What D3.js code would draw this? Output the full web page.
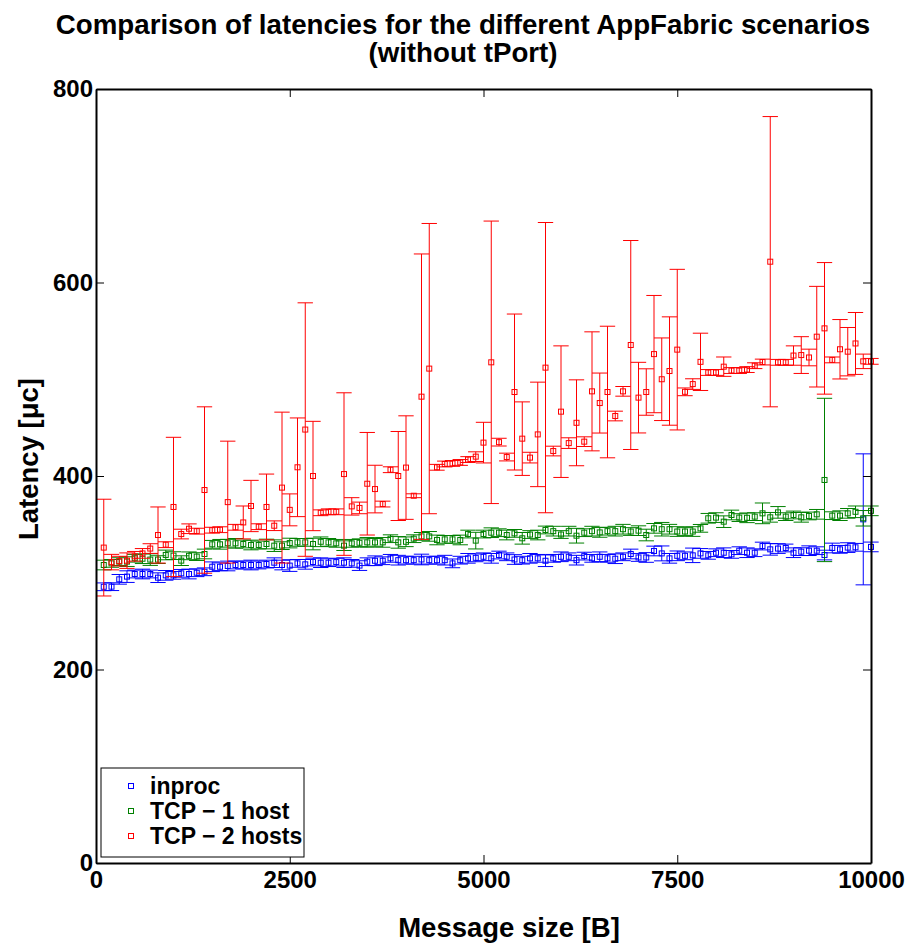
<!DOCTYPE html>
<html><head><meta charset="utf-8">
<script src="https://cdn.jsdelivr.net/npm/d3@7"></script>
<style>
body{margin:0;background:#fff}
svg{display:block}
text{font-family:"Liberation Sans",Arial,Helvetica,sans-serif;font-weight:bold;fill:#000}
</style>
</head><body>
<svg id="chart" width="905" height="943"></svg>
<script>
const msgSize = [100,200,300,400,500,600,700,800,900,1000,1100,1200,1300,1400,1500,1600,1700,1800,1900,2000,
2100,2200,2300,2400,2500,2600,2700,2800,2900,3000,3100,3200,3300,3400,3500,3600,3700,3800,3900,4000,
4100,4200,4300,4400,4500,4600,4700,4800,4900,5000,5100,5200,5300,5400,5500,5600,5700,5800,5900,6000,
6100,6200,6300,6400,6500,6600,6700,6800,6900,7000,7100,7200,7300,7400,7500,7600,7700,7800,7900,8000,
8100,8200,8300,8400,8500,8600,8700,8800,8900,9000,9100,9200,9300,9400,9500,9600,9700,9800,9900,10000];

const inprocMean = [285.5,285.6,293.2,296,298.7,298.7,298.7,294.9,297.3,297.3,
299.4,298.7,300,301,306.2,306.2,307,308,308,308,
308,309,310.4,308,307.4,309.7,308.7,311.1,310.4,310.4,
311,310.4,309.7,307.4,311.4,312.4,312.4,314.9,313,313,
313,313.7,313,313,313,309.7,313,314.9,315.4,316.5,
314.9,318.3,316.5,313.7,313,314.9,314.9,312.4,314.9,316.5,
316.5,313,317.2,314.9,316.5,314.9,314.5,316.5,319.4,315.8,
315.8,322.5,320,314.9,317.5,317.5,318,320,318,320.7,
320.7,319,322.8,320.7,320.7,327.6,324.2,325,325.6,320.7,
321.8,322.8,322.8,318.3,325.6,324.2,326,326.3,355.2,326.7];
const inprocErr = [4,4,5,6,4,5,4,5,5,4,
4,5,4,4,5,4,5,4,4,5,
4,4,5,5,6,4,5,4,5,4,
4,5,4,5,4,5,4,4,5,4,
4,5.5,4,4,5,4.5,4,5,4,4,
5,4,4,5,4,5,4,6,4,5,
4,5,4,4,5,4,5,4,5,4,
5,5,7.7,5,5,4,7.5,5,4,4,
5,4,4,5,4,4,6,5,4,5,
4,5,4,5,5,4,5,4,67.7,5];

const tcp1Mean = [308,309.7,311.5,311.5,315,314.5,313.6,313.6,318.4,317.7,
312.5,317.5,316.7,319.4,329.4,329.4,330.5,330.4,329.7,328.7,
328.7,329.7,328,328,330.7,331.4,331.4,329.7,332,331.4,
330.4,328,330.4,331,331.4,331.4,331.4,335.2,331.4,332,
335.2,337.6,337.6,333.9,334.5,334.5,333.9,340,333.2,340,
341.4,341.4,339,340.7,335.6,339.5,339,344.2,343,339.5,
343,338.3,341.4,343,341.7,343,343,345,342.6,343.5,
339,345.9,345,345,342.6,342.6,342.6,345.9,356.3,357,
352.8,359.7,357,356.8,358,361.4,357.3,362.4,358,359.7,
357.3,358.7,360.4,395.9,359,359,361.4,363,356.3,364];
const tcp1Err = [5,4,4,5,4,5,6,4,5,4,
5,4,4,5,4,5,4,5,4,5,
4,5,6,4,5,4,4,6,5,4,
4,5,4,4,5,4,5,4,6,5,
4,4,5,5,4,4,5,4,8.6,4,
5,4,5,4,6,4,5,4,5,4,
5,7.6,4,5,5,4,5,5,4,5,
6,5,7,5,5,4,5,4,5,5,
6,5,4,5,4,10.7,5,6,4,4,
5,4,5,84.4,4,5,5,6,8,5];

const tcp2Mean = [326,311,312,312.5,317,320,325,339,329,368,
340,345.5,343,385.5,344,344.5,373,347,352,369,
347.6,368,348.6,388,365,409,448,400,362,363,
363,402,368.6,367,392,386.5,371,406.5,400,408.7,
379.6,482,511,409,412.4,413,414,417,420,434.5,
517.5,435,419.6,486.8,438.6,419,443,512,425.8,466.5,
434,455,435.5,487.5,475.4,486.8,462,487.5,535.4,481,
486.8,526,500,508.5,530.6,487,495,518,507,507,
513,509,509,510,514,517.8,621.5,517.5,517.5,524.5,
525,522.5,544,552.6,520,531,528.5,537,518.5,518.5];
const tcp2Err = [50,8,5,8,5,5,5,29,3,72,
5,5,3,86,3,3,63,3,17,26.5,
3,34,5,78,16.5,51,131,56.5,3,3,
3,84,9,6,53,24.6,3,3,46,53.5,
2,147.5,150,3,3,3,3,3,5,21,
146,4,4,80.6,38,5.5,54,150,5,68,
5.5,44.4,5,61.5,31,68,5,5,108,36.5,
24,60.6,42.7,56,83,4,5.5,29.6,3,3,
10,3,3,3,3,3,150,3,3,10,
19,8.6,52,68,3,30.7,25,32,7.5,3];

const seriesNames = ["inproc", "TCP \u2212 1 host", "TCP \u2212 2 hosts"];
const seriesColors = ["#0000ff", "#008000", "#ff0000"];
const xTicks = [0, 2500, 5000, 7500, 10000];
const yTicks = [0, 200, 400, 600, 800];
const titleLines = ["Comparison of latencies for the different AppFabric scenarios", "(without tPort)"];
const xLabel = "Message size [B]";
const yLabel = "Latency [\u03bcc]";

const W = 905, H = 943;
const M = {left: 96, right: 34, top: 89, bottom: 80};
const pw = W - M.left - M.right, ph = H - M.top - M.bottom;

const svg = d3.select("#chart");
const g = svg.append("g").attr("transform", `translate(${M.left},${M.top})`);

const x = d3.scaleLinear().domain([0, 10000]).range([0, pw]);
const y = d3.scaleLinear().domain([0, 800]).range([ph, 0]);

const series = [
  {name: seriesNames[0], color: seriesColors[0], mean: inprocMean, err: inprocErr},
  {name: seriesNames[1], color: seriesColors[1], mean: tcp1Mean, err: tcp1Err},
  {name: seriesNames[2], color: seriesColors[2], mean: tcp2Mean, err: tcp2Err}
];

const capHalf = (d3.max(msgSize) - d3.min(msgSize)) / 100;
const mk = 5;

const plot = g.append("g").attr("clip-path", null);
series.forEach(s => {
  const sg = plot.append("g").attr("stroke", s.color).attr("fill", "none").attr("stroke-width", 1);
  const pts = msgSize.map((v, i) => ({x: v, m: s.mean[i], e: s.err[i]}));
  const bars = sg.selectAll("g.bar").data(pts).join("g").attr("class", "bar");
  bars.append("line")
    .attr("x1", d => x(d.x)).attr("x2", d => x(d.x))
    .attr("y1", d => y(d.m - d.e)).attr("y2", d => y(d.m + d.e));
  bars.append("line")
    .attr("x1", d => x(d.x - capHalf)).attr("x2", d => x(d.x + capHalf))
    .attr("y1", d => y(d.m + d.e)).attr("y2", d => y(d.m + d.e));
  bars.append("line")
    .attr("x1", d => x(d.x - capHalf)).attr("x2", d => x(d.x + capHalf))
    .attr("y1", d => y(d.m - d.e)).attr("y2", d => y(d.m - d.e));
  bars.append("rect")
    .attr("x", d => x(d.x) - mk / 2).attr("y", d => y(d.m) - mk / 2)
    .attr("width", mk).attr("height", mk);
});

// axes with inward ticks on all four sides
const tickLen = 8;
const styleAxis = sel => {
  sel.select(".domain").attr("stroke", "#000").attr("stroke-width", 2);
  sel.selectAll(".tick line").attr("stroke", "#000").attr("stroke-width", 1);
  sel.selectAll("text").style("font-size", "24px");
};
const xb = g.append("g").attr("transform", `translate(0,${ph})`)
  .call(d3.axisBottom(x).tickValues(xTicks).tickSizeInner(-tickLen).tickSizeOuter(0).tickPadding(0).tickFormat(d3.format("d")));
xb.call(styleAxis);
xb.selectAll("text").attr("y", 25).attr("dy", null);

const xt = g.append("g")
  .call(d3.axisTop(x).tickValues(xTicks).tickSizeInner(-tickLen).tickSizeOuter(0).tickFormat(""));
xt.call(styleAxis);

const yl = g.append("g")
  .call(d3.axisLeft(y).tickValues(yTicks).tickSizeInner(-tickLen).tickSizeOuter(0).tickPadding(3).tickFormat(d3.format("d")));
yl.call(styleAxis);

const yr = g.append("g").attr("transform", `translate(${pw},0)`)
  .call(d3.axisRight(y).tickValues(yTicks).tickSizeInner(-tickLen).tickSizeOuter(0).tickFormat(""));
yr.call(styleAxis);

// title
const title = svg.append("text").attr("text-anchor", "middle").style("font-size", "27.7px");
title.selectAll("tspan").data(titleLines).join("tspan")
  .attr("x", 463).attr("y", (d, i) => 34 + i * 28).text(d => d);

// axis labels
svg.append("text").attr("text-anchor", "middle").style("font-size", "27.5px")
  .attr("x", 509).attr("y", 937).text(xLabel);
svg.append("text").attr("text-anchor", "middle").style("font-size", "27.5px")
  .attr("transform", "translate(38,459) rotate(-90)").text(yLabel);

// legend
const lg = svg.append("g");
lg.append("rect").attr("x", 101).attr("y", 768).attr("width", 203).attr("height", 89)
  .attr("fill", "#fff").attr("stroke", "#000").attr("stroke-width", 1);
series.forEach((s, i) => {
  const cy = 786 + i * 25;
  lg.append("rect").attr("x", 131 - mk / 2).attr("y", cy - mk / 2).attr("width", mk).attr("height", mk)
    .attr("fill", "none").attr("stroke", s.color).attr("stroke-width", 1);
  lg.append("text").attr("x", 150).attr("y", cy + 8).style("font-size", "23px").text(s.name);
});
</script>
</body></html>
